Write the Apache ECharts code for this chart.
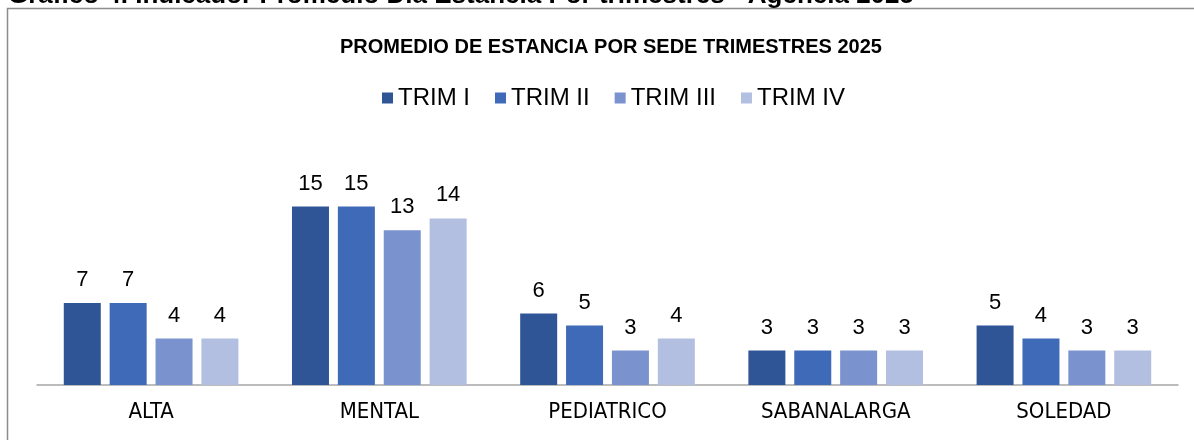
<!DOCTYPE html>
<html>
<head>
<meta charset="utf-8">
<script src="https://cdn.jsdelivr.net/npm/echarts@6/dist/echarts.min.js"></script>
<style>html,body{margin:0;padding:0;background:#fff}#c{width:1194px;height:440px}</style>
</head>
<body>
<div id="c"></div>
<script>
const categories = ['ALTA', 'MENTAL', 'PEDIATRICO', 'SABANALARGA', 'SOLEDAD'];
const seriesNames = ['TRIM I', 'TRIM II', 'TRIM III', 'TRIM IV'];
const trim1 = [6.9, 15.0, 6.0, 2.9, 5.0];
const trim2 = [6.9, 15.0, 5.0, 2.9, 3.9];
const trim3 = [3.9, 13.0, 2.9, 2.9, 2.9];
const trim4 = [3.9, 14.0, 3.9, 2.9, 2.9];
const colors = ['#2F5597', '#3E6AB8', '#7A93CF', '#B2BFE0'];
const chartTitle = 'PROMEDIO DE ESTANCIA POR SEDE TRIMESTRES 2025';
const pageCaption = 'Gráfico 4. Indicador Promedio Día Estancia Por trimestres - Agencia 2025';

const narrow = "'DejaVu Sans Condensed', 'Liberation Sans', Arial, sans-serif";
const regular = "'Liberation Sans', Arial, sans-serif";

const chart = echarts.init(document.getElementById('c'), null, {renderer: 'canvas'});
const allData = [trim1, trim2, trim3, trim4];
chart.setOption({
  animation: false,
  backgroundColor: '#fff',
  title: {
    text: chartTitle,
    left: 335,
    top: 32,
    textStyle: {fontFamily: regular, fontWeight: 'bold', fontSize: 20, color: '#000'}
  },
  legend: {
    data: seriesNames,
    left: 382,
    top: 86,
    padding: 0,
    itemWidth: 11,
    itemHeight: 11,
    itemGap: 25,
    icon: 'rect',
    textStyle: {fontFamily: regular, fontSize: 24, color: '#000'}
  },
  graphic: [
    {type: 'rect', shape: {x: 7.5, y: 8.5, width: 1250, height: 500},
     style: {fill: 'none', stroke: '#8c8c8c', lineWidth: 1.5}, silent: true},
    {type: 'text', x: 8, y: 9, style: {text: pageCaption, fontFamily: regular, fontWeight: 'bold', fontSize: 26, fill: '#000', verticalAlign: 'bottom'}}
  ],
  grid: {left: 37, right: 16, top: 147, bottom: 55, containLabel: false},
  xAxis: {
    type: 'category',
    data: categories,
    axisTick: {show: false},
    axisLine: {lineStyle: {color: '#a6a6a6', width: 1.5}},
    axisLabel: {fontFamily: narrow, fontSize: 22, color: '#000', margin: 16}
  },
  yAxis: {type: 'value', min: 0, max: 20, show: false, splitLine: {show: false}},
  series: seriesNames.map((n, i) => ({
    name: n,
    type: 'bar',
    data: allData[i],
    barWidth: 37,
    barGap: '24%',
    itemStyle: {color: colors[i]},
    label: {
      show: true, position: 'top', distance: 12,
      fontFamily: regular, fontSize: 22, color: '#000',
      formatter: p => Math.round(p.value)
    }
  }))
});
</script>
</body>
</html>
